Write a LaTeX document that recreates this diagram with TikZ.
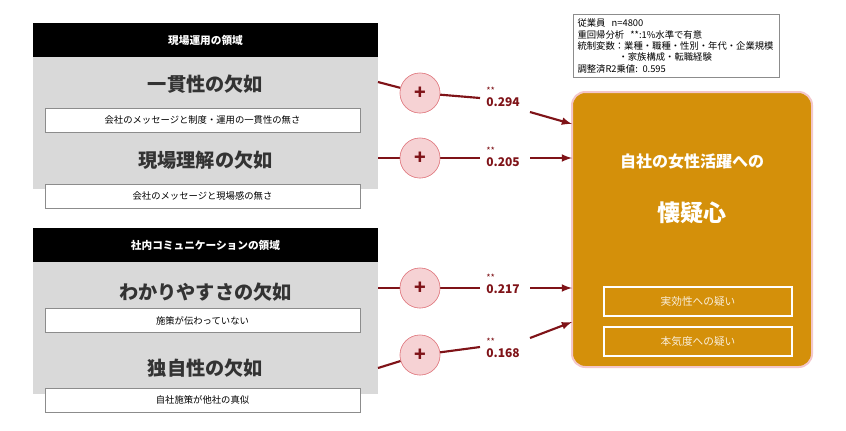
\documentclass[tikz,border=0pt]{standalone}
\usepackage{fontspec}
\setmainfont{Noto Sans CJK JP}
\definecolor{darkred}{HTML}{7F1318}
\definecolor{circfill}{HTML}{F6D2D4}
\definecolor{circline}{HTML}{E07A80}
\definecolor{graybar}{HTML}{D9D9D9}
\definecolor{ochre}{HTML}{D4900A}
\definecolor{pinkline}{HTML}{F3C7CB}
\begin{document}
\begin{tikzpicture}[x=0.75pt,y=-0.75pt,>=latex,
  headbox/.style={fill=black,text=white,font=\footnotesize\bfseries,minimum width=345*0.75pt,minimum height=34*0.75pt,inner sep=0pt},
  factorbox/.style={fill=graybar,minimum width=345*0.75pt,minimum height=66*0.75pt,inner sep=0pt},
  factortext/.style={font=\Large\bfseries,text=black!80},
  detailbox/.style={draw=black!45,fill=white,minimum width=315*0.75pt,minimum height=24*0.75pt,inner sep=0pt,font=\scriptsize},
  plus/.style={circle,draw=circline,fill=circfill,minimum size=40*0.75pt,inner sep=0pt,font=\Large\bfseries,text=darkred},
  coef/.style={align=left,text=darkred,font=\small\bfseries,inner sep=1pt},
  link/.style={darkred,line width=1.6pt},
  subbox/.style={draw=white,thick,minimum width=188*0.75pt,minimum height=29*0.75pt,inner sep=0pt,text=white!85!ochre,font=\footnotesize}]
\useasboundingbox (0,0) rectangle (846,430);
%% left side
\node (head_a) at (205.5,40) [headbox] {現場運用の領域};
\node (fact_1) at (205.5,89.5) [factorbox] {};
\node at (205.5,84) [factortext] {一貫性の欠如};
\node (fact_2) at (205.5,155.5) [factorbox] {};
\node at (205.5,160) [factortext] {現場理解の欠如};
\node (det_1) at (202.5,120) [detailbox] {会社のメッセージと制度・運用の一貫性の無さ};
\node (det_2) at (202.5,196) [detailbox] {会社のメッセージと現場感の無さ};
\node (head_b) at (205.5,245) [headbox] {社内コミュニケーションの領域};
\node (fact_3) at (205.5,295) [factorbox] {};
\node at (205.5,292) [factortext] {わかりやすさの欠如};
\node (fact_4) at (205.5,361) [factorbox] {};
\node at (205.5,368) [factortext] {独自性の欠如};
\node (det_3) at (202.5,320.5) [detailbox] {施策が伝わっていない};
\node (det_4) at (202.5,400) [detailbox] {自社施策が他社の真似};
%% right side
\node (outcome) at (692,229.5) [draw=pinkline,line width=1.5pt,fill=ochre,rounded corners=10pt,minimum width=240*0.75pt,minimum height=275*0.75pt] {};
\node at (692,161) [text=white,font=\large\bfseries] {自社の女性活躍への};
\node at (692,213) [text=white,font=\LARGE\bfseries] {懐疑心};
\node (sub_1) at (698,301.5) [subbox] {実効性への疑い};
\node (sub_2) at (698,341.5) [subbox] {本気度への疑い};
\node (note) at (676.5,46) [draw=black!45,fill=white,align=left,font=\fontsize{7}{8.6}\selectfont,inner sep=3pt,text width=198*0.75pt] {従業員\ \ n=4800\\重回帰分析\ \ **:1\%水準で有意\\統制変数：業種・職種・性別・年代・企業規模\\\hspace{4.4em}・家族構成・転職経験\\調整済R2乗値: 0.595};
%% paths
\node (plus_1) at (420,93) [plus] {+};
\node (plus_2) at (420,158) [plus] {+};
\node (plus_3) at (420,288) [plus] {+};
\node (plus_4) at (420,355) [plus] {+};
\node (coef_1) at (503,97) [coef] {{\scriptsize\mdseries **}\\[-2pt]0.294};
\node (coef_2) at (503,157) [coef] {{\scriptsize\mdseries **}\\[-2pt]0.205};
\node (coef_3) at (503,284) [coef] {{\scriptsize\mdseries **}\\[-2pt]0.217};
\node (coef_4) at (503,348) [coef] {{\scriptsize\mdseries **}\\[-2pt]0.168};
\coordinate (in_1) at (572,124);
\coordinate (in_2) at (572,158);
\coordinate (in_3) at (572,288);
\coordinate (in_4) at (572,322);
\draw [link] (378,82) -- (plus_1) -- (480,98);
\draw [link,->] (530,112) -- (in_1);
\draw [link] (378,158) -- (plus_2) -- (480,158);
\draw [link,->] (530,158) -- (in_2);
\draw [link] (378,288) -- (plus_3) -- (480,288);
\draw [link,->] (530,288) -- (in_3);
\draw [link] (378,368) -- (plus_4) -- (480,347);
\draw [link,->] (530,338) -- (in_4);
\node at (plus_1) [plus] {+};
\node at (plus_2) [plus] {+};
\node at (plus_3) [plus] {+};
\node at (plus_4) [plus] {+};
%
\end{tikzpicture}
\end{document}
